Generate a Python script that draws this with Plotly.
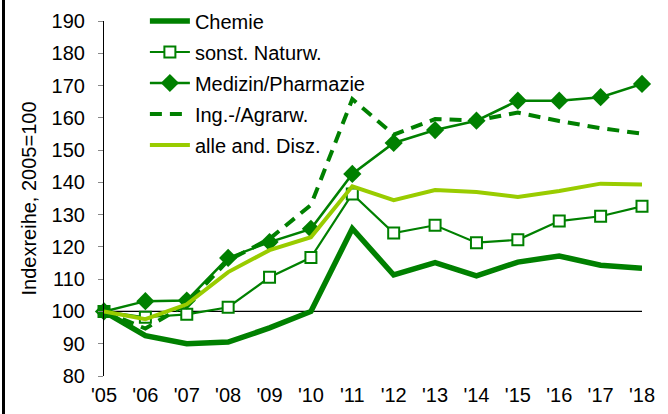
import plotly.graph_objects as go

years = ["'05", "'06", "'07", "'08", "'09", "'10", "'11", "'12", "'13", "'14", "'15", "'16", "'17", "'18"]
chemie = [100, 92.5, 90.0, 90.5, 94.9, 100.0, 125.7, 111.3, 115.1, 111.0, 115.3, 117.2, 114.3, 113.4]
naturw = [100, 98.2, 99.1, 101.3, 110.6, 116.7, 136.4, 124.3, 126.7, 121.3, 122.2, 128.0, 129.5, 132.6]
medizin = [100, 103.2, 103.4, 116.6, 121.5, 125.6, 142.6, 152.2, 156.2, 159.1, 165.3, 165.3, 166.4, 170.5]
ingagr = [100, 94.7, 102.3, 115.8, 122.5, 133.0, 165.8, 154.8, 159.6, 159.2, 161.6, 159.0, 156.8, 155.1]
andere = [100, 97.6, 102.2, 112.2, 119.0, 123.0, 138.8, 134.5, 137.6, 137.0, 135.5, 137.3, 139.6, 139.3]
names = ["Chemie", "sonst. Naturw.", "Medizin/Pharmazie", "Ing.-/Agrarw.", "alle and. Disz."]
yticks = [80, 90, 100, 110, 120, 130, 140, 150, 160, 170, 180, 190]

x = list(range(len(years)))
DG = "#008000"
LG = "#99CC00"

fig = go.Figure()
fig.add_trace(go.Scatter(x=x, y=chemie, name=names[0], mode="lines",
                         line=dict(color=DG, width=5.5), legendgroup="a", cliponaxis=False))
fig.add_trace(go.Scatter(x=x, y=naturw, name=names[1], mode="lines+markers",
                         line=dict(color=DG, width=2.2),
                         marker=dict(symbol="square", size=11, color="white", line=dict(color=DG, width=2)),
                         legendgroup="b", cliponaxis=False))
fig.add_trace(go.Scatter(x=x, y=medizin, name=names[2], mode="lines+markers",
                         line=dict(color=DG, width=2.5),
                         marker=dict(symbol="diamond", size=14, color=DG),
                         legendgroup="c", cliponaxis=False))
fig.add_trace(go.Scatter(x=x, y=ingagr, name=names[3], mode="lines",
                         line=dict(color=DG, width=4, dash="12px,8px"),
                         legendgroup="d", cliponaxis=False))
fig.add_trace(go.Scatter(x=x, y=andere, name=names[4], mode="lines",
                         line=dict(color=LG, width=4),
                         legendgroup="e", cliponaxis=False))

fig.add_shape(type="line", xref="x", yref="y", x0=0, x1=len(years) - 1, y0=100, y1=100,
              line=dict(color="black", width=1.2), layer="below")
# left frame line
fig.add_shape(type="rect", xref="paper", yref="paper", x0=-102 / 538, x1=-99 / 538,
              y0=-38 / 355, y1=1 + 21 / 355, line=dict(width=0), fillcolor="black",
              layer="above")

fig.update_layout(
    width=668, height=414,
    margin=dict(l=104, r=26, t=21, b=38, autoexpand=False),
    paper_bgcolor="white", plot_bgcolor="white",
    font=dict(family="Liberation Sans, Arial, sans-serif", size=20, color="black"),
    showlegend=True,
    legend=dict(x=0.076, y=1.055, xanchor="left", yanchor="top",
                bgcolor="rgba(0,0,0,0)", traceorder="grouped", tracegroupgap=2,
                font=dict(size=20), itemwidth=40),
    xaxis=dict(range=[0, len(years) - 1], tickmode="array", tickvals=x, ticktext=years,
               showgrid=False, zeroline=False, showline=False, ticks="",
               ticklabelstandoff=5, tickfont=dict(size=20), automargin=False),
    yaxis=dict(range=[80, 190], tickmode="array", tickvals=yticks, automargin=False,
               showgrid=False, zeroline=False, showline=True, linecolor="black", linewidth=1.2,
               ticks="outside", ticklen=5, tickcolor="#888888", tickwidth=1,
               ticklabelstandoff=9,
               title=dict(text="Indexreihe, 2005=100", font=dict(size=20), standoff=9),
               tickfont=dict(size=20)),
)

fig.write_html("out.html", config={"displayModeBar": False},
               post_script="document.body.style.margin='0';")
